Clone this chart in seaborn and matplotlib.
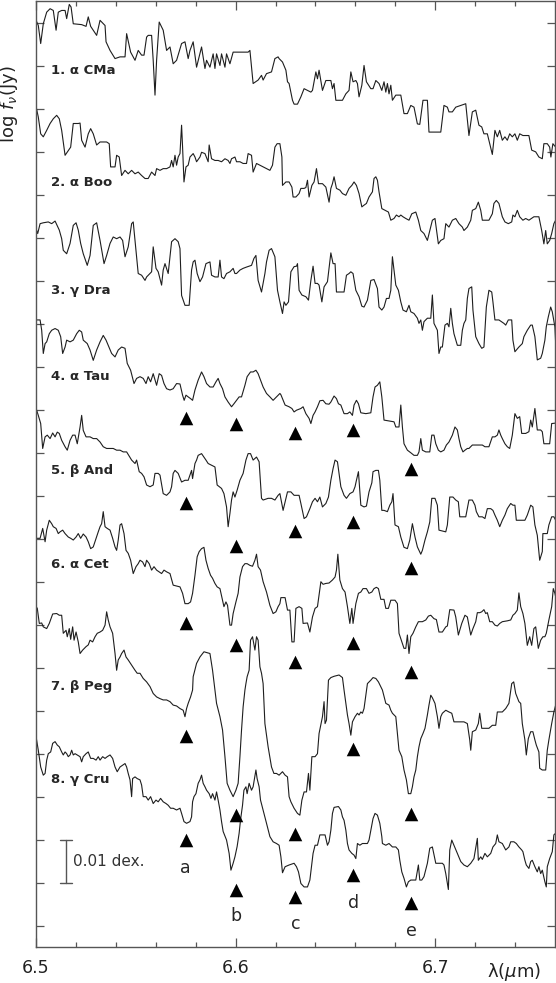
import numpy as np
import matplotlib
matplotlib.use('Agg')
import matplotlib.pyplot as plt
import seaborn as sns

# star labels and the height (mdex) where each label sits
labels = ['1. α CMa', '2. α Boo', '3. γ Dra', '4. α Tau',
          '5. β And', '6. α Cet', '7. β Peg', '8. γ Cru']
label_y = [199.1, 173.0, 147.9, 127.9, 106.0, 84.0, 55.8, 34.0]

# spectra: (wavelength [micron], log f_nu [0.001 dex, offset included])
cma = [(6.5002, 210.7), (6.5013, 209.5), (6.5025, 205.3), (6.5038, 209.9), (6.5055, 212.6), (6.5072, 213.4),
       (6.5088, 213.0), (6.5102, 208.4), (6.5113, 212.6), (6.5130, 213.0), (6.5147, 213.0), (6.5155, 211.1),
       (6.5168, 214.4), (6.5177, 213.8), (6.5188, 209.9), (6.5230, 209.7), (6.5252, 209.3), (6.5263, 211.5),
       (6.5275, 209.3), (6.5305, 207.2), (6.5322, 210.7), (6.5347, 209.5), (6.5352, 205.7), (6.5372, 203.7),
       (6.5397, 201.8), (6.5422, 202.2), (6.5447, 202.2), (6.5455, 207.6), (6.5475, 203.3), (6.5497, 201.4),
       (6.5513, 203.7), (6.5530, 202.6), (6.5542, 202.6), (6.5555, 206.8), (6.5563, 207.2), (6.5580, 207.2),
       (6.5588, 201.4), (6.5597, 193.3), (6.5605, 201.4), (6.5618, 210.3), (6.5638, 208.4), (6.5655, 203.7),
       (6.5672, 204.5), (6.5688, 200.6), (6.5705, 201.4), (6.5730, 205.3), (6.5747, 205.7), (6.5763, 201.8),
       (6.5772, 203.7), (6.5788, 205.7), (6.5805, 199.8), (6.5830, 204.5), (6.5847, 199.5), (6.5855, 201.4),
       (6.5872, 199.8), (6.5888, 202.9), (6.5897, 199.5), (6.5905, 202.9), (6.5922, 200.2), (6.5930, 202.9),
       (6.5947, 199.8), (6.5955, 202.9), (6.5972, 200.6), (6.5988, 203.3), (6.6022, 203.3), (6.6063, 203.3),
       (6.6072, 203.7), (6.6088, 196.0), (6.6113, 196.8), (6.6130, 197.9), (6.6138, 196.8), (6.6155, 198.3),
       (6.6180, 198.7), (6.6197, 201.8), (6.6213, 202.2),
       (6.6218, 201.8), (6.6235, 201.0), (6.6252, 199.1), (6.6260, 196.4), (6.6268, 196.0), (6.6285, 192.1),
       (6.6293, 191.2), (6.6310, 191.2), (6.6327, 192.9), (6.6343, 194.8), (6.6360, 194.4), (6.6377, 194.0),
       (6.6385, 194.4), (6.6402, 198.7), (6.6410, 197.1), (6.6418, 199.1), (6.6435, 194.4), (6.6452, 196.7),
       (6.6477, 196.7), (6.6485, 194.8), (6.6493, 196.0), (6.6502, 192.1), (6.6535, 192.1), (6.6552, 193.6),
       (6.6568, 194.4), (6.6577, 198.7), (6.6588, 196.4), (6.6602, 196.7), (6.6610, 196.0), (6.6618, 192.9),
       (6.6632, 195.6), (6.6643, 200.2), (6.6655, 196.4), (6.6677, 194.8), (6.6688, 194.8), (6.6702, 196.7),
       (6.6718, 196.0), (6.6732, 194.4), (6.6743, 196.4), (6.6752, 194.0), (6.6760, 196.0), (6.6768, 193.6),
       (6.6777, 195.6), (6.6785, 192.1), (6.6802, 193.3), (6.6827, 193.3), (6.6843, 189.0), (6.6860, 189.0),
       (6.6877, 190.9), (6.6893, 190.5), (6.6910, 186.6), (6.6922, 186.5), (6.6938, 192.1), (6.6960, 192.1),
       (6.6968, 184.7), (6.7027, 184.7), (6.7043, 190.9), (6.7060, 190.5), (6.7068, 189.4), (6.7085, 189.4),
       (6.7102, 190.5), (6.7152, 191.3), (6.7168, 183.9), (6.7185, 189.4), (6.7202, 189.8), (6.7218, 186.3),
       (6.7232, 185.9), (6.7243, 184.3), (6.7260, 184.3), (6.7285, 179.5), (6.7298, 185.1), (6.7310, 183.6),
       (6.7322, 185.1), (6.7335, 182.8), (6.7348, 183.6), (6.7360, 182.8), (6.7372, 184.3), (6.7385, 183.6),
       (6.7398, 184.3), (6.7410, 182.8), (6.7422, 184.3), (6.7438, 183.9), (6.7468, 183.9), (6.7482, 180.5),
       (6.7502, 180.1), (6.7518, 178.9), (6.7535, 178.5), (6.7543, 182.0), (6.7560, 182.0), (6.7572, 181.2),
       (6.7578, 178.9), (6.7588, 182.0), (6.7602, 181.2)]

boo = [(6.5002, 190.6), (6.5013, 188.2), (6.5025, 184.3), (6.5038, 183.6), (6.5055, 185.1), (6.5072, 186.7),
       (6.5088, 187.8), (6.5105, 188.6), (6.5118, 187.8), (6.5130, 185.1), (6.5147, 179.3), (6.5163, 180.4),
       (6.5175, 181.2), (6.5188, 186.7), (6.5213, 186.7), (6.5222, 186.8), (6.5230, 182.8), (6.5247, 181.2),
       (6.5263, 184.3), (6.5275, 185.5), (6.5288, 184.3), (6.5305, 181.7), (6.5322, 182.4), (6.5355, 182.4),
       (6.5368, 182.0), (6.5375, 176.6), (6.5397, 176.6), (6.5405, 179.3), (6.5418, 178.9), (6.5430, 174.6),
       (6.5447, 175.8), (6.5463, 175.0), (6.5480, 175.8), (6.5497, 175.0), (6.5513, 175.4), (6.5530, 174.6),
       (6.5547, 173.9), (6.5563, 173.9), (6.5580, 175.4), (6.5597, 174.6), (6.5605, 176.2), (6.5622, 175.8),
       (6.5638, 176.2), (6.5655, 176.2), (6.5672, 176.6), (6.5680, 178.1), (6.5688, 176.6), (6.5697, 179.3),
       (6.5705, 177.0), (6.5713, 178.9), (6.5722, 179.7), (6.5730, 186.3), (6.5735, 181.2), (6.5742, 173.1),
       (6.5752, 176.6), (6.5763, 177.0), (6.5772, 178.9), (6.5788, 179.7), (6.5797, 178.9), (6.5805, 177.8),
       (6.5822, 178.9), (6.5830, 180.0), (6.5847, 179.7), (6.5863, 177.8), (6.5868, 181.7), (6.5880, 178.5),
       (6.5897, 178.1), (6.5913, 178.1), (6.5930, 177.8), (6.5947, 178.5), (6.5963, 178.1), (6.5972, 177.4),
       (6.5980, 178.5), (6.5997, 178.9), (6.6005, 177.8), (6.6022, 177.8), (6.6038, 177.4), (6.6055, 177.4),
       (6.6063, 179.7), (6.6080, 179.3), (6.6088, 175.4), (6.6105, 177.4), (6.6122, 177.0), (6.6138, 176.6),
       (6.6155, 176.2), (6.6172, 175.8), (6.6185, 177.0), (6.6197, 181.2), (6.6208, 182.0),
       (6.6222, 182.0), (6.6232, 178.9), (6.6235, 172.3), (6.6252, 173.1), (6.6268, 173.1), (6.6282, 171.9),
       (6.6288, 169.6), (6.6302, 169.6), (6.6318, 170.4), (6.6327, 171.6), (6.6343, 171.6), (6.6352, 171.8),
       (6.6360, 173.5), (6.6368, 169.6), (6.6382, 172.3), (6.6393, 173.1), (6.6405, 176.2), (6.6415, 172.7),
       (6.6435, 172.7), (6.6452, 171.9), (6.6468, 168.4), (6.6477, 171.6), (6.6485, 172.7), (6.6493, 174.3),
       (6.6505, 171.6), (6.6522, 171.2), (6.6535, 170.4), (6.6552, 170.0), (6.6568, 171.6), (6.6582, 172.3),
       (6.6593, 173.1), (6.6605, 172.3), (6.6618, 170.4), (6.6632, 167.3), (6.6643, 167.7), (6.6655, 168.1),
       (6.6668, 169.6), (6.6685, 170.8), (6.6693, 173.9), (6.6702, 174.3), (6.6710, 173.5), (6.6718, 170.8),
       (6.6732, 166.9), (6.6748, 166.5), (6.6765, 166.1), (6.6777, 164.2), (6.6793, 164.6), (6.6805, 165.4),
       (6.6818, 165.0), (6.6827, 165.4), (6.6838, 165.0), (6.6852, 164.6), (6.6868, 164.2), (6.6882, 165.7),
       (6.6902, 166.1), (6.6915, 164.2), (6.6927, 161.8), (6.6943, 161.1), (6.6960, 159.5), (6.6972, 161.8),
       (6.6985, 164.2), (6.6998, 164.6), (6.7015, 158.7), (6.7027, 159.5), (6.7043, 159.9), (6.7052, 163.4),
       (6.7068, 162.6), (6.7085, 164.2), (6.7102, 164.6), (6.7118, 163.4), (6.7135, 162.6), (6.7143, 161.8),
       (6.7160, 162.6), (6.7177, 164.2), (6.7185, 166.5), (6.7202, 166.9), (6.7215, 168.4), (6.7227, 166.5),
       (6.7235, 164.2), (6.7268, 164.2), (6.7285, 165.7), (6.7293, 168.1), (6.7305, 168.8), (6.7318, 168.1),
       (6.7335, 165.0), (6.7348, 163.8), (6.7365, 163.4), (6.7382, 163.8), (6.7388, 165.4), (6.7398, 165.0),
       (6.7410, 166.5), (6.7422, 165.0), (6.7438, 164.2), (6.7452, 164.6), (6.7468, 164.2), (6.7493, 165.0),
       (6.7518, 165.0), (6.7532, 161.8), (6.7543, 158.7), (6.7552, 161.8), (6.7560, 158.7), (6.7572, 159.5),
       (6.7582, 161.1), (6.7593, 163.4), (6.7602, 164.2)]

dra = [(6.5002, 162.2), (6.5010, 161.1), (6.5022, 163.4), (6.5038, 163.6), (6.5063, 163.8), (6.5080, 163.4),
       (6.5097, 164.0), (6.5118, 161.9), (6.5130, 159.9), (6.5138, 157.2), (6.5155, 156.4), (6.5172, 158.8),
       (6.5188, 163.0), (6.5202, 163.6), (6.5213, 161.9), (6.5225, 158.8), (6.5238, 156.4), (6.5258, 153.7),
       (6.5272, 156.0), (6.5288, 163.0), (6.5305, 163.6), (6.5322, 159.5), (6.5342, 154.1), (6.5355, 156.0),
       (6.5372, 158.8), (6.5388, 160.3), (6.5405, 159.9), (6.5422, 160.3), (6.5435, 159.5), (6.5447, 155.7),
       (6.5463, 158.0), (6.5480, 163.4), (6.5488, 163.8), (6.5497, 159.5), (6.5505, 155.7), (6.5513, 151.8),
       (6.5530, 151.4), (6.5547, 150.2), (6.5555, 151.0), (6.5572, 151.8), (6.5580, 152.2), (6.5588, 158.0),
       (6.5602, 153.0), (6.5613, 152.2), (6.5630, 149.1), (6.5638, 152.6), (6.5647, 154.1), (6.5663, 151.8),
       (6.5680, 159.2), (6.5697, 159.9), (6.5713, 159.2), (6.5722, 157.6), (6.5730, 146.7), (6.5747, 144.4),
       (6.5768, 144.4), (6.5780, 152.6), (6.5788, 154.5), (6.5797, 154.9), (6.5808, 151.8), (6.5822, 149.9),
       (6.5835, 151.0), (6.5852, 154.1), (6.5872, 154.5), (6.5880, 151.4), (6.5897, 151.0), (6.5913, 151.0),
       (6.5922, 154.9), (6.5930, 151.0), (6.5942, 150.6), (6.5955, 151.8), (6.5972, 152.2), (6.5988, 153.0),
       (6.5997, 151.8), (6.6005, 151.8), (6.6022, 152.6), (6.6038, 153.0), (6.6055, 153.3), (6.6080, 153.7),
       (6.6092, 155.3), (6.6102, 156.0), (6.6113, 150.2), (6.6130, 147.5), (6.6147, 151.8), (6.6155, 154.5),
       (6.6168, 157.2), (6.6180, 157.6), (6.6197, 155.7), (6.6210, 147.9), (6.6222, 145.2),
       (6.6235, 142.5), (6.6243, 145.2), (6.6252, 144.4), (6.6265, 145.2), (6.6277, 152.2), (6.6293, 153.4),
       (6.6305, 153.5), (6.6310, 154.1), (6.6318, 147.9), (6.6332, 146.8), (6.6352, 146.4), (6.6365, 145.6),
       (6.6377, 150.2), (6.6388, 153.5), (6.6398, 149.5), (6.6410, 149.5), (6.6418, 149.1), (6.6432, 145.2),
       (6.6443, 148.7), (6.6460, 149.9), (6.6477, 156.6), (6.6488, 154.1), (6.6498, 154.1), (6.6505, 147.5),
       (6.6527, 147.5), (6.6543, 147.5), (6.6555, 151.4), (6.6568, 151.8), (6.6577, 152.2), (6.6588, 151.8),
       (6.6602, 147.9), (6.6618, 146.4), (6.6632, 144.2), (6.6643, 144.0), (6.6660, 145.6), (6.6677, 150.2),
       (6.6693, 150.4), (6.6710, 148.3), (6.6718, 144.0), (6.6732, 143.3), (6.6743, 144.0), (6.6755, 146.0),
       (6.6768, 146.0), (6.6777, 147.9), (6.6785, 155.7), (6.6793, 152.6), (6.6802, 149.1), (6.6815, 147.9),
       (6.6827, 145.2), (6.6838, 143.3), (6.6855, 142.9), (6.6868, 144.4), (6.6877, 142.9), (6.6893, 142.5),
       (6.6910, 141.4), (6.6918, 140.2), (6.6927, 141.0), (6.6935, 138.6), (6.6943, 140.6), (6.6960, 141.4),
       (6.6977, 141.4), (6.6985, 146.8), (6.6993, 140.2), (6.7010, 138.6), (6.7018, 133.2), (6.7027, 134.7),
       (6.7035, 134.7), (6.7048, 139.8), (6.7060, 140.2), (6.7068, 139.4), (6.7077, 143.7), (6.7085, 140.2),
       (6.7093, 137.8), (6.7110, 135.1), (6.7127, 135.1), (6.7135, 138.6), (6.7143, 140.2), (6.7152, 141.0),
       (6.7160, 146.0), (6.7168, 148.3), (6.7182, 148.7), (6.7188, 143.3), (6.7202, 137.1), (6.7218, 135.5),
       (6.7232, 134.4), (6.7243, 134.7), (6.7255, 144.0), (6.7268, 147.9), (6.7282, 147.5), (6.7288, 145.2),
       (6.7298, 141.0), (6.7318, 141.0), (6.7343, 140.2), (6.7352, 139.8), (6.7365, 141.0), (6.7382, 141.0),
       (6.7388, 136.3), (6.7398, 133.6), (6.7418, 134.7), (6.7435, 135.5), (6.7443, 137.1), (6.7460, 138.6),
       (6.7477, 139.8), (6.7485, 139.8), (6.7498, 137.1), (6.7510, 131.7), (6.7527, 132.1), (6.7535, 133.2),
       (6.7548, 136.3), (6.7555, 139.4), (6.7565, 141.7), (6.7577, 144.0), (6.7585, 142.9), (6.7598, 139.4),
       (6.7602, 135.5)]

tau = [(6.5002, 141.0), (6.5022, 141.0), (6.5030, 138.6), (6.5038, 133.2), (6.5047, 135.5), (6.5055, 135.9),
       (6.5068, 137.8), (6.5080, 138.6), (6.5097, 139.0), (6.5113, 138.6), (6.5125, 137.1), (6.5135, 133.2),
       (6.5147, 134.7), (6.5155, 136.3), (6.5172, 135.9), (6.5188, 136.3), (6.5205, 137.8), (6.5218, 138.6),
       (6.5230, 138.2), (6.5238, 136.3), (6.5258, 135.5), (6.5272, 134.0), (6.5288, 131.6), (6.5305, 134.0),
       (6.5322, 135.9), (6.5338, 137.4), (6.5352, 136.3), (6.5363, 135.1), (6.5380, 133.2), (6.5397, 132.4),
       (6.5413, 134.0), (6.5430, 134.7), (6.5447, 134.4), (6.5458, 130.9), (6.5475, 129.3), (6.5492, 126.2),
       (6.5505, 127.4), (6.5522, 127.8), (6.5538, 127.4), (6.5552, 126.2), (6.5563, 127.8), (6.5575, 126.6),
       (6.5588, 128.5), (6.5605, 125.8), (6.5618, 128.5), (6.5630, 128.1), (6.5642, 126.2), (6.5655, 125.0),
       (6.5672, 124.7), (6.5688, 125.0), (6.5705, 126.2), (6.5722, 126.1), (6.5735, 123.5), (6.5743, 122.3),
       (6.5752, 123.5), (6.5763, 123.1), (6.5775, 122.7), (6.5785, 122.3), (6.5797, 124.7), (6.5813, 127.0),
       (6.5830, 128.9), (6.5842, 127.8), (6.5855, 126.2), (6.5872, 125.4), (6.5888, 125.4), (6.5902, 126.6),
       (6.5913, 127.4), (6.5922, 126.2), (6.5935, 125.0), (6.5947, 123.1), (6.5963, 121.9), (6.5980, 120.8),
       (6.5992, 121.5), (6.6005, 122.3), (6.6018, 123.1), (6.6030, 123.1), (6.6047, 125.8), (6.6058, 127.8),
       (6.6075, 128.9), (6.6088, 128.9), (6.6102, 129.3), (6.6113, 128.5), (6.6125, 127.0), (6.6138, 125.4),
       (6.6155, 123.9), (6.6172, 123.1), (6.6188, 122.3), (6.6205, 123.1), (6.6222, 123.9),
       (6.6227, 123.6), (6.6235, 122.7), (6.6248, 121.2), (6.6268, 120.8), (6.6282, 120.4), (6.6293, 119.6),
       (6.6305, 120.0), (6.6327, 120.4), (6.6338, 120.8), (6.6352, 119.2), (6.6368, 118.1), (6.6377, 116.9),
       (6.6388, 118.8), (6.6398, 119.6), (6.6410, 120.8), (6.6422, 122.2), (6.6438, 122.3), (6.6452, 121.5),
       (6.6468, 121.4), (6.6477, 121.9), (6.6493, 123.3), (6.6505, 122.7), (6.6515, 121.5), (6.6527, 121.2),
       (6.6543, 119.2), (6.6560, 119.2), (6.6572, 119.6), (6.6585, 118.8), (6.6593, 121.2), (6.6605, 122.3),
       (6.6615, 121.5), (6.6627, 119.4), (6.6652, 119.2), (6.6677, 119.4), (6.6688, 123.1), (6.6698, 125.4),
       (6.6710, 125.8), (6.6722, 126.6), (6.6732, 123.1), (6.6743, 117.7), (6.6768, 117.5), (6.6793, 117.3),
       (6.6802, 116.1), (6.6818, 116.1), (6.6827, 121.2), (6.6835, 116.1), (6.6843, 112.2), (6.6860, 110.7),
       (6.6877, 110.1), (6.6893, 109.5), (6.6910, 109.5), (6.6918, 110.3), (6.6927, 113.4), (6.6935, 110.7),
       (6.6952, 110.3), (6.6972, 110.3), (6.6982, 114.2), (6.6993, 114.2), (6.7002, 112.2), (6.7015, 110.7),
       (6.7027, 110.3), (6.7043, 110.7), (6.7055, 111.9), (6.7068, 112.6), (6.7085, 114.2), (6.7098, 116.1),
       (6.7110, 115.4), (6.7118, 113.4), (6.7127, 111.5), (6.7138, 110.3), (6.7148, 110.7), (6.7160, 111.1),
       (6.7168, 111.1), (6.7185, 111.9), (6.7202, 111.9), (6.7218, 111.9), (6.7235, 111.9), (6.7248, 111.5),
       (6.7268, 111.5), (6.7285, 113.8), (6.7298, 113.8), (6.7310, 114.2), (6.7318, 115.4), (6.7327, 114.2),
       (6.7335, 113.4), (6.7348, 112.2), (6.7360, 111.5), (6.7372, 111.1), (6.7385, 114.2), (6.7398, 119.2),
       (6.7410, 118.1), (6.7422, 118.5), (6.7432, 114.6), (6.7452, 114.6), (6.7468, 115.0), (6.7477, 117.7),
       (6.7485, 116.1), (6.7498, 120.4), (6.7510, 115.4), (6.7527, 115.4), (6.7535, 115.0), (6.7543, 112.2),
       (6.7572, 112.2), (6.7582, 116.9), (6.7602, 117.0)]

andr = [(6.5002, 120.4), (6.5013, 118.8), (6.5025, 116.9), (6.5035, 111.1), (6.5047, 113.8), (6.5058, 114.2),
        (6.5072, 113.4), (6.5085, 114.7), (6.5097, 113.8), (6.5108, 114.9), (6.5118, 114.6), (6.5130, 113.0),
        (6.5147, 111.5), (6.5158, 110.7), (6.5172, 113.0), (6.5185, 114.2), (6.5197, 114.2), (6.5208, 112.2),
        (6.5222, 116.1), (6.5230, 118.8), (6.5238, 115.3), (6.5252, 113.8), (6.5272, 113.8), (6.5288, 113.4),
        (6.5305, 113.4), (6.5322, 112.6), (6.5338, 111.5), (6.5355, 111.1), (6.5388, 111.1), (6.5405, 110.7),
        (6.5422, 110.7), (6.5438, 110.3), (6.5455, 110.3), (6.5480, 108.4), (6.5497, 107.6), (6.5505, 108.4),
        (6.5518, 105.7), (6.5530, 105.3), (6.5542, 104.5), (6.5555, 102.6), (6.5572, 102.2), (6.5588, 102.6),
        (6.5597, 105.3), (6.5613, 105.3), (6.5622, 104.9), (6.5638, 100.6), (6.5655, 100.2), (6.5672, 101.0),
        (6.5680, 102.2), (6.5688, 105.3), (6.5697, 106.0), (6.5713, 105.3), (6.5730, 103.3), (6.5747, 103.7),
        (6.5763, 103.7), (6.5772, 104.9), (6.5780, 106.0), (6.5785, 104.1), (6.5797, 107.6), (6.5805, 108.4),
        (6.5813, 109.5), (6.5830, 109.9), (6.5842, 109.1), (6.5852, 108.4), (6.5863, 107.6), (6.5880, 107.2),
        (6.5897, 106.8), (6.5908, 102.6), (6.5930, 101.8), (6.5942, 100.6), (6.5955, 97.5), (6.5963, 92.9),
        (6.5972, 96.0), (6.5980, 99.1), (6.5988, 101.0), (6.5997, 99.8), (6.6008, 101.4), (6.6022, 103.7),
        (6.6038, 105.3), (6.6052, 108.4), (6.6063, 109.9), (6.6075, 109.9), (6.6088, 108.4), (6.6105, 109.1),
        (6.6118, 108.0), (6.6130, 99.5), (6.6138, 99.1), (6.6163, 99.5), (6.6180, 99.5), (6.6197, 99.1),
        (6.6213, 100.2), (6.6222, 100.6),
        (6.6238, 96.7), (6.6260, 101.0), (6.6277, 101.0), (6.6293, 100.2), (6.6318, 100.2), (6.6327, 98.3),
        (6.6343, 94.8), (6.6355, 95.2), (6.6372, 97.1), (6.6385, 98.7), (6.6398, 99.5), (6.6410, 98.7),
        (6.6422, 99.8), (6.6435, 97.5), (6.6452, 98.3), (6.6465, 99.8), (6.6477, 103.7), (6.6488, 106.4),
        (6.6498, 108.4), (6.6510, 108.0), (6.6527, 102.2), (6.6543, 100.2), (6.6555, 99.5), (6.6572, 100.6),
        (6.6588, 101.0), (6.6598, 102.2), (6.6605, 103.7), (6.6615, 105.7), (6.6627, 97.9), (6.6643, 97.5),
        (6.6655, 97.7), (6.6668, 101.0), (6.6682, 103.1), (6.6688, 105.7), (6.6702, 106.0), (6.6715, 106.0),
        (6.6722, 103.7), (6.6732, 96.7), (6.6743, 96.7), (6.6760, 96.4), (6.6772, 97.9), (6.6782, 98.7),
        (6.6788, 100.6), (6.6798, 93.3), (6.6815, 92.9), (6.6827, 90.5), (6.6843, 88.1), (6.6860, 87.8),
        (6.6872, 89.8), (6.6885, 93.6), (6.6898, 90.5), (6.6910, 88.2), (6.6927, 86.5), (6.6935, 87.4),
        (6.6948, 89.8), (6.6960, 91.7), (6.6972, 94.0), (6.6982, 99.5), (6.6998, 99.5), (6.7010, 97.9),
        (6.7018, 92.1), (6.7052, 91.7), (6.7060, 93.3), (6.7072, 99.8), (6.7088, 99.8), (6.7102, 99.1),
        (6.7115, 98.7), (6.7122, 95.2), (6.7152, 95.2), (6.7168, 99.1), (6.7185, 99.1), (6.7198, 97.9),
        (6.7205, 96.4), (6.7218, 95.2), (6.7235, 95.2), (6.7248, 94.8), (6.7260, 97.1), (6.7277, 97.1),
        (6.7288, 96.7), (6.7298, 95.6), (6.7310, 94.4), (6.7322, 92.9), (6.7335, 94.4), (6.7348, 95.6),
        (6.7360, 97.1), (6.7377, 98.3), (6.7388, 97.9), (6.7398, 97.9), (6.7405, 94.4), (6.7435, 94.4),
        (6.7448, 94.4), (6.7460, 95.6), (6.7477, 97.9), (6.7488, 97.5), (6.7498, 93.3), (6.7510, 90.9),
        (6.7522, 85.1), (6.7535, 87.1), (6.7538, 91.3), (6.7560, 91.3), (6.7568, 93.3), (6.7582, 95.2),
        (6.7593, 95.2), (6.7602, 94.4)]

cet = [(6.5002, 90.2), (6.5022, 90.2), (6.5035, 92.5), (6.5047, 89.4), (6.5055, 92.1), (6.5068, 94.4),
       (6.5080, 93.6), (6.5088, 92.9), (6.5102, 92.5), (6.5113, 91.3), (6.5122, 91.7), (6.5135, 92.1),
       (6.5147, 91.3), (6.5163, 90.5), (6.5175, 90.2), (6.5188, 89.8), (6.5202, 90.5), (6.5213, 91.3),
       (6.5225, 90.2), (6.5238, 91.2), (6.5252, 90.5), (6.5263, 89.4), (6.5275, 87.8), (6.5288, 88.2),
       (6.5302, 90.2), (6.5313, 91.7), (6.5322, 92.9), (6.5330, 93.6), (6.5338, 96.4), (6.5347, 92.9),
       (6.5358, 92.5), (6.5372, 92.1), (6.5385, 90.2), (6.5397, 88.2), (6.5405, 87.4), (6.5413, 89.8),
       (6.5422, 93.3), (6.5430, 93.6), (6.5442, 91.3), (6.5452, 87.4), (6.5463, 86.7), (6.5475, 85.1),
       (6.5488, 82.0), (6.5502, 83.6), (6.5513, 84.3), (6.5522, 85.1), (6.5535, 84.7), (6.5547, 83.6),
       (6.5555, 85.1), (6.5568, 84.3), (6.5580, 82.8), (6.5592, 83.6), (6.5605, 82.8), (6.5618, 82.4),
       (6.5630, 82.0), (6.5642, 82.8), (6.5655, 82.4), (6.5672, 82.0), (6.5688, 79.3), (6.5705, 79.1),
       (6.5722, 78.9), (6.5735, 77.4), (6.5747, 75.0), (6.5763, 75.0), (6.5775, 75.4), (6.5785, 77.4),
       (6.5797, 81.6), (6.5808, 85.9), (6.5818, 87.1), (6.5830, 87.8), (6.5842, 88.1), (6.5852, 85.1),
       (6.5863, 83.2), (6.5875, 81.6), (6.5885, 80.9), (6.5897, 79.7), (6.5908, 78.9), (6.5922, 78.5),
       (6.5935, 75.8), (6.5942, 74.3), (6.5952, 75.4), (6.5960, 74.6), (6.5972, 70.0), (6.5980, 70.0),
       (6.5988, 72.7), (6.6002, 75.4), (6.6013, 77.4), (6.6022, 81.2), (6.6035, 83.6), (6.6047, 84.3),
       (6.6058, 84.3), (6.6072, 83.9), (6.6085, 83.7), (6.6097, 85.1), (6.6105, 86.5), (6.6113, 83.6),
       (6.6125, 82.8), (6.6138, 80.1), (6.6155, 77.7), (6.6172, 74.6), (6.6188, 72.7), (6.6202, 73.1),
       (6.6213, 74.3), (6.6222, 75.0),
       (6.6227, 76.4), (6.6248, 76.4), (6.6260, 73.5), (6.6272, 73.5), (6.6282, 66.1), (6.6293, 66.1),
       (6.6302, 73.9), (6.6318, 74.3), (6.6332, 73.9), (6.6338, 70.4), (6.6360, 70.5), (6.6372, 68.4),
       (6.6385, 71.9), (6.6398, 73.9), (6.6410, 74.3), (6.6427, 80.1), (6.6438, 79.5), (6.6452, 79.7),
       (6.6468, 79.8), (6.6485, 80.5), (6.6498, 81.2), (6.6505, 82.8), (6.6512, 86.5), (6.6522, 80.5),
       (6.6535, 78.5), (6.6548, 77.7), (6.6560, 74.3), (6.6572, 70.4), (6.6582, 73.9), (6.6588, 70.4),
       (6.6602, 75.0), (6.6615, 77.4), (6.6627, 77.7), (6.6638, 78.5), (6.6655, 78.5), (6.6668, 77.4),
       (6.6682, 77.7), (6.6693, 78.5), (6.6705, 78.8), (6.6715, 78.5), (6.6727, 76.0), (6.6743, 76.0),
       (6.6752, 73.9), (6.6765, 73.9), (6.6777, 75.8), (6.6798, 75.8), (6.6810, 75.0), (6.6818, 68.1),
       (6.6832, 66.1), (6.6843, 64.6), (6.6852, 64.6), (6.6860, 67.7), (6.6868, 63.4), (6.6877, 67.3),
       (6.6888, 68.1), (6.6902, 69.6), (6.6915, 70.8), (6.6935, 70.8), (6.6952, 71.2), (6.6965, 72.1),
       (6.6977, 72.3), (6.6993, 71.5), (6.7005, 71.3), (6.7018, 68.4), (6.7035, 68.4), (6.7052, 69.6),
       (6.7060, 69.8), (6.7072, 73.6), (6.7093, 73.5), (6.7102, 71.9), (6.7115, 67.7), (6.7132, 70.4),
       (6.7148, 72.3), (6.7160, 71.9), (6.7177, 67.7), (6.7188, 69.2), (6.7202, 70.8), (6.7210, 72.9),
       (6.7222, 72.9), (6.7232, 73.1), (6.7243, 73.6), (6.7252, 72.7), (6.7260, 72.9), (6.7272, 70.8),
       (6.7285, 70.8), (6.7298, 70.0), (6.7310, 69.8), (6.7322, 70.4), (6.7335, 70.8), (6.7348, 70.9),
       (6.7360, 71.0), (6.7377, 71.2), (6.7388, 72.3), (6.7398, 72.7), (6.7410, 73.5), (6.7418, 77.5),
       (6.7427, 74.3), (6.7438, 72.7), (6.7448, 70.4), (6.7460, 65.3), (6.7472, 67.3), (6.7482, 65.3),
       (6.7493, 69.2), (6.7502, 69.6), (6.7515, 64.6), (6.7527, 66.5), (6.7538, 67.3), (6.7548, 67.3),
       (6.7555, 68.1), (6.7568, 71.2), (6.7582, 74.3), (6.7590, 78.5), (6.7598, 77.4), (6.7602, 76.6)]

peg = [(6.5002, 74.3), (6.5008, 73.9), (6.5018, 70.4), (6.5030, 70.5), (6.5038, 69.6), (6.5055, 69.2),
       (6.5068, 70.4), (6.5085, 72.6), (6.5105, 72.7), (6.5118, 72.3), (6.5130, 72.3), (6.5138, 68.1),
       (6.5152, 68.8), (6.5158, 67.3), (6.5168, 69.2), (6.5175, 66.7), (6.5185, 69.6), (6.5192, 66.5),
       (6.5202, 68.4), (6.5213, 66.1), (6.5222, 63.4), (6.5235, 64.2), (6.5252, 65.0), (6.5263, 65.4),
       (6.5272, 66.5), (6.5285, 66.1), (6.5297, 67.3), (6.5308, 68.1), (6.5322, 68.4), (6.5335, 68.8),
       (6.5347, 70.0), (6.5355, 73.1), (6.5363, 71.2), (6.5372, 69.6), (6.5385, 68.1), (6.5397, 63.4),
       (6.5405, 59.5), (6.5413, 61.9), (6.5422, 62.6), (6.5430, 63.4), (6.5442, 64.2), (6.5452, 62.6),
       (6.5463, 61.9), (6.5480, 60.7), (6.5497, 59.5), (6.5508, 58.8), (6.5522, 58.8), (6.5538, 57.6),
       (6.5555, 56.8), (6.5572, 55.7), (6.5588, 54.1), (6.5605, 53.3), (6.5622, 52.9), (6.5638, 52.6),
       (6.5655, 52.6), (6.5672, 52.2), (6.5688, 51.4), (6.5705, 51.2), (6.5722, 50.6), (6.5738, 50.2),
       (6.5747, 48.7), (6.5755, 50.6), (6.5763, 51.8), (6.5775, 53.3), (6.5785, 54.9), (6.5788, 58.0),
       (6.5805, 61.1), (6.5822, 62.6), (6.5842, 63.8), (6.5858, 63.6), (6.5872, 63.4), (6.5885, 59.5),
       (6.5897, 54.9), (6.5905, 51.8), (6.5922, 48.7), (6.5935, 45.6), (6.5947, 39.4), (6.5958, 33.2),
       (6.5972, 31.6), (6.5988, 30.1), (6.6002, 31.6), (6.6013, 33.2), (6.6022, 39.4), (6.6030, 45.6),
       (6.6038, 51.0), (6.6047, 54.9), (6.6052, 56.4), (6.6058, 58.0), (6.6068, 59.5), (6.6075, 66.5),
       (6.6085, 67.3), (6.6097, 64.2), (6.6105, 67.3), (6.6113, 66.5), (6.6122, 60.3), (6.6130, 58.8),
       (6.6138, 56.4), (6.6147, 47.1), (6.6163, 41.7), (6.6180, 37.0), (6.6192, 35.5), (6.6205, 35.5),
       (6.6218, 35.1), (6.6235, 35.9), (6.6248, 35.1), (6.6260, 34.7), (6.6268, 30.1), (6.6277, 28.9),
       (6.6293, 27.4), (6.6310, 26.2), (6.6322, 25.8), (6.6332, 29.3), (6.6343, 31.2), (6.6355, 31.2),
       (6.6365, 35.5), (6.6372, 31.6), (6.6382, 39.4), (6.6398, 39.4), (6.6410, 40.1), (6.6418, 44.8),
       (6.6435, 48.7), (6.6443, 52.2), (6.6448, 47.1), (6.6455, 47.9), (6.6465, 57.2), (6.6477, 57.8),
       (6.6493, 58.1), (6.6518, 58.4), (6.6535, 57.8), (6.6543, 54.9), (6.6560, 49.1), (6.6568, 47.1),
       (6.6577, 44.4), (6.6585, 47.5), (6.6598, 48.7), (6.6610, 49.5), (6.6618, 49.1), (6.6627, 49.8),
       (6.6635, 49.5), (6.6643, 50.6), (6.6660, 56.4), (6.6677, 57.2), (6.6688, 57.8), (6.6702, 57.6),
       (6.6715, 56.8), (6.6735, 54.9), (6.6752, 51.8), (6.6768, 51.4), (6.6777, 50.2), (6.6785, 49.5),
       (6.6802, 48.7), (6.6818, 40.9), (6.6832, 39.4), (6.6843, 36.3), (6.6855, 34.0), (6.6865, 30.8),
       (6.6877, 30.8), (6.6885, 32.4), (6.6893, 34.7), (6.6902, 36.3), (6.6910, 39.4), (6.6918, 41.7),
       (6.6927, 43.6), (6.6938, 44.8), (6.6948, 46.0), (6.6960, 49.1), (6.6968, 51.4), (6.6977, 53.7),
       (6.6985, 53.1), (6.6998, 51.8), (6.7010, 48.7), (6.7018, 46.0), (6.7027, 48.7), (6.7035, 49.5),
       (6.7052, 50.2), (6.7068, 49.8), (6.7082, 49.5), (6.7093, 47.5), (6.7118, 47.5), (6.7143, 47.5),
       (6.7160, 47.1), (6.7172, 43.3), (6.7177, 40.9), (6.7185, 45.2), (6.7202, 45.6), (6.7215, 47.1),
       (6.7222, 49.5), (6.7232, 46.0), (6.7252, 46.0), (6.7268, 46.0), (6.7285, 46.7), (6.7302, 46.7),
       (6.7310, 49.8), (6.7335, 49.8), (6.7352, 50.6), (6.7368, 51.8), (6.7382, 56.4), (6.7392, 56.8),
       (6.7402, 54.1), (6.7418, 52.2), (6.7427, 51.8), (6.7435, 47.1), (6.7448, 43.3), (6.7455, 39.8),
       (6.7465, 43.6), (6.7477, 45.2), (6.7488, 45.2), (6.7498, 43.3), (6.7505, 42.1), (6.7518, 40.5),
       (6.7522, 36.7), (6.7535, 36.3), (6.7552, 36.3), (6.7560, 40.9), (6.7568, 43.3), (6.7582, 47.1),
       (6.7593, 49.8), (6.7602, 51.4)]

cru = [(6.5002, 44.0), (6.5013, 40.9), (6.5025, 37.0), (6.5038, 35.1), (6.5047, 35.5), (6.5055, 38.6),
       (6.5063, 40.1), (6.5075, 40.5), (6.5085, 42.5), (6.5097, 42.9), (6.5108, 42.1), (6.5118, 41.7),
       (6.5130, 40.5), (6.5138, 39.8), (6.5147, 40.5), (6.5155, 40.1), (6.5163, 39.4), (6.5172, 39.8),
       (6.5180, 40.9), (6.5188, 39.8), (6.5197, 40.1), (6.5208, 39.8), (6.5222, 39.4), (6.5230, 38.2),
       (6.5238, 39.4), (6.5252, 40.1), (6.5263, 40.5), (6.5275, 39.0), (6.5288, 39.0), (6.5302, 38.6),
       (6.5313, 39.4), (6.5322, 38.6), (6.5335, 39.4), (6.5347, 39.0), (6.5358, 39.4), (6.5372, 39.8),
       (6.5385, 39.0), (6.5397, 37.0), (6.5408, 35.9), (6.5422, 37.0), (6.5435, 37.4), (6.5447, 37.8),
       (6.5455, 37.0), (6.5463, 35.5), (6.5472, 34.0), (6.5480, 30.1), (6.5485, 34.3), (6.5497, 34.7),
       (6.5508, 34.3), (6.5522, 34.0), (6.5530, 32.8), (6.5538, 30.1), (6.5552, 30.1), (6.5563, 29.3),
       (6.5575, 30.1), (6.5588, 28.5), (6.5602, 29.3), (6.5613, 28.9), (6.5625, 29.7), (6.5638, 28.9),
       (6.5652, 28.5), (6.5663, 28.1), (6.5675, 27.4), (6.5688, 27.4), (6.5705, 27.0), (6.5722, 27.4),
       (6.5730, 26.2), (6.5742, 24.3), (6.5755, 23.9), (6.5772, 24.3), (6.5780, 25.4), (6.5785, 28.9),
       (6.5792, 30.1), (6.5802, 30.8), (6.5813, 33.2), (6.5822, 34.0), (6.5830, 35.1), (6.5838, 33.2),
       (6.5847, 32.4), (6.5855, 31.6), (6.5868, 30.8), (6.5877, 29.7), (6.5885, 30.8), (6.5897, 29.3),
       (6.5905, 31.2), (6.5913, 29.3), (6.5922, 27.0), (6.5930, 24.3), (6.5938, 22.0), (6.5955, 20.0),
       (6.5968, 16.9), (6.5977, 13.0), (6.5988, 14.6), (6.5997, 16.1), (6.6008, 18.5), (6.6018, 21.6),
       (6.6025, 24.7), (6.6035, 28.1), (6.6042, 31.6), (6.6052, 32.4), (6.6058, 30.8), (6.6068, 33.2),
       (6.6080, 31.6), (6.6088, 32.4), (6.6102, 36.3), (6.6108, 34.3), (6.6118, 32.4), (6.6125, 29.3),
       (6.6138, 27.0), (6.6155, 23.9), (6.6172, 20.8), (6.6188, 19.6), (6.6205, 19.2), (6.6218, 18.8),
       (6.6227, 16.1), (6.6235, 12.4), (6.6248, 13.8), (6.6268, 14.2), (6.6293, 14.6), (6.6305, 13.8),
       (6.6315, 12.6), (6.6327, 9.9), (6.6343, 9.1), (6.6360, 9.1), (6.6372, 10.7), (6.6382, 14.6),
       (6.6388, 16.9), (6.6398, 18.8), (6.6410, 18.8), (6.6422, 21.2), (6.6448, 21.2), (6.6460, 18.8),
       (6.6468, 19.6), (6.6477, 22.3), (6.6485, 26.2), (6.6493, 27.6), (6.6515, 27.8), (6.6527, 27.0),
       (6.6535, 25.4), (6.6543, 24.6), (6.6552, 22.3), (6.6560, 19.2), (6.6568, 17.7), (6.6582, 16.9),
       (6.6593, 16.5), (6.6602, 15.7), (6.6610, 19.2), (6.6622, 18.8), (6.6635, 19.2), (6.6660, 19.2),
       (6.6668, 20.0), (6.6677, 22.3), (6.6688, 25.0), (6.6698, 26.2), (6.6710, 25.8), (6.6722, 23.9),
       (6.6732, 20.8), (6.6735, 19.2), (6.6752, 18.8), (6.6768, 19.2), (6.6785, 18.4), (6.6802, 18.4),
       (6.6815, 17.7), (6.6822, 15.3), (6.6832, 12.6), (6.6843, 11.1), (6.6855, 9.1), (6.6865, 10.3),
       (6.6877, 10.7), (6.6902, 10.7), (6.6915, 14.2), (6.6922, 10.7), (6.6932, 10.7), (6.6943, 11.5),
       (6.6960, 14.6), (6.6972, 18.1), (6.6985, 18.4), (6.7002, 14.6), (6.7035, 14.6), (6.7043, 14.2),
       (6.7052, 12.2), (6.7065, 8.5), (6.7072, 17.7), (6.7082, 20.0), (6.7093, 18.8), (6.7110, 16.9),
       (6.7127, 15.0), (6.7143, 14.2), (6.7160, 13.8), (6.7177, 14.6), (6.7193, 15.7), (6.7210, 20.4),
       (6.7215, 15.3), (6.7227, 16.1), (6.7235, 15.5), (6.7248, 16.9), (6.7260, 16.1), (6.7277, 16.9),
       (6.7288, 18.4), (6.7302, 19.2), (6.7310, 21.2), (6.7318, 19.6), (6.7335, 19.2), (6.7352, 17.7),
       (6.7368, 18.4), (6.7377, 19.6), (6.7393, 19.6), (6.7405, 19.2), (6.7418, 18.4), (6.7432, 17.7),
       (6.7438, 17.3), (6.7448, 15.3), (6.7455, 14.2), (6.7468, 13.4), (6.7477, 15.0), (6.7485, 15.3),
       (6.7498, 13.8), (6.7510, 12.6), (6.7518, 13.8), (6.7527, 12.2), (6.7535, 13.0), (6.7548, 10.3),
       (6.7555, 9.1), (6.7560, 13.8), (6.7572, 15.7), (6.7585, 17.3), (6.7593, 21.2), (6.7602, 21.6)]

spectra = [cma, boo, dra, tau, andr, cet, peg, cru]

# absorption band markers a-e (wavelengths) and their heights for stars 4-8
band_wl = [6.575, 6.600, 6.630, 6.659, 6.688]
band_names = ['a', 'b', 'c', 'd', 'e']
tri_tau = [118.1, 116.9, 114.8, 115.5, 106.4]
tri_and = [98.4, 88.4, 91.9, 94.0, 83.4]
tri_cet = [70.5, 65.3, 61.5, 65.9, 59.0]
tri_peg = [44.2, 25.8, 21.4, 41.1, 26.0]
tri_cru = [20.0, 8.4, 6.8, 11.9, 5.3]
letter_y = [12.4, 1.2, -0.7, 4.3, -2.3]

sns.set_style('ticks')
plt.rcParams['font.family'] = ['DejaVu Sans']

fig = plt.figure(figsize=(5.56, 9.83), dpi=100)
ax = fig.add_axes([0.0642, 0.0363, 0.9345, 0.9627])

for spec in spectra:
    wl, lf = zip(*spec)
    sns.lineplot(x=list(wl), y=list(lf), ax=ax, color='#1e1e1e', linewidth=0.8,
                 estimator=None, sort=False)

for row in [tri_tau, tri_and, tri_cet, tri_peg, tri_cru]:
    sns.scatterplot(x=band_wl, y=row, ax=ax, marker='^', s=95, color='black',
                    edgecolor='black', linewidth=0, zorder=5)

for wl, name, yy in zip(band_wl, band_names, letter_y):
    ax.text(wl, yy, name, ha='center', va='baseline', fontsize=12.5)

for lab, yy in zip(labels, label_y):
    ax.text(6.5075, yy, lab, ha='left', va='center', fontsize=9.5, fontweight='bold')

# 0.01 dex scale bar
ax.plot([6.515, 6.515], [10, 20], color='#555555', lw=1.0)
ax.plot([6.512, 6.518], [10, 10], color='#555555', lw=1.0)
ax.plot([6.512, 6.518], [20, 20], color='#555555', lw=1.0)
ax.text(6.5185, 15.0, '0.01 dex.', ha='left', va='center', fontsize=11, color='#333333')

ax.set_xlim(6.5, 6.76)
ax.set_ylim(-4.95, 215.2)
ax.set_xticks([6.5, 6.6, 6.7])
ax.set_xticklabels(['6.5', '6.6', '6.7'])
ax.set_xticks([6.52, 6.54, 6.56, 6.58, 6.62, 6.64, 6.66, 6.68, 6.72, 6.74], minor=True)
ax.set_yticks(np.arange(0, 211, 10))
ax.set_yticklabels([])
ax.set_xlabel('')
ax.set_ylabel('')
ax.tick_params(axis='both', which='both', direction='in', top=True, right=True,
               color='#555555', width=0.9)
ax.tick_params(axis='x', which='major', length=6.5, pad=8.5, labelsize=12.5, labelcolor='#222222')
ax.tick_params(axis='x', which='minor', length=3.6)
ax.tick_params(axis='y', which='major', length=5.5)
for sp in ax.spines.values():
    sp.set_color('#555555')
    sp.set_linewidth(1.0)

ax.text(0.92, -0.026, r'λ($\mu$m)', transform=ax.transAxes, ha='center', va='center',
        fontsize=13, color='#222222')
fig.text(9.5 / 556, 1 - 104 / 983, r'log $f_{\nu}$(Jy)', rotation=90, ha='center', va='center',
         fontsize=13, color='#222222')

fig.savefig('out.png', dpi=100)
